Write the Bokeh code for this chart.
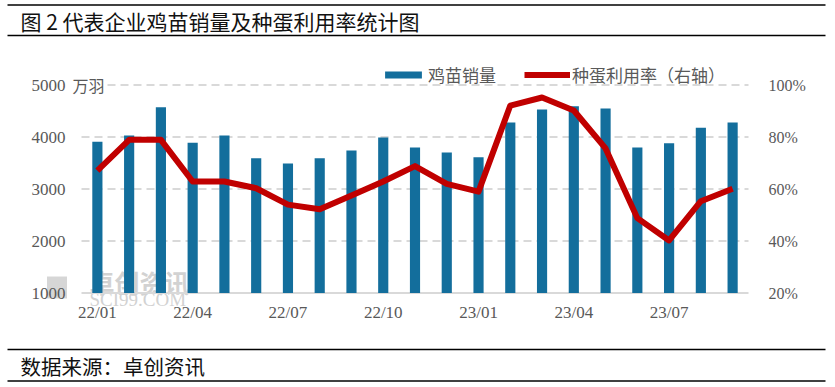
from bokeh.plotting import figure
from bokeh.models import (Range1d, LinearAxis, FixedTicker, PrintfTickFormatter,
                          Legend, LegendItem, ColumnDataSource)
from bokeh.embed import file_html
from bokeh.resources import INLINE
from bokeh.core.properties import value

# ---------------- data ----------------
months = ["22/01", "22/02", "22/03", "22/04", "22/05", "22/06", "22/07",
          "22/08", "22/09", "22/10", "22/11", "22/12", "23/01", "23/02",
          "23/03", "23/04", "23/05", "23/06", "23/07", "23/08", "23/09"]
chick_sales = [3910, 4030, 4570, 3890, 4030, 3590, 3490, 3590, 3740, 3990, 3800,
               3700, 3610, 4280, 4530, 4590, 4550, 3800, 3880, 4180, 4280]
egg_util = [67.1, 78.9, 78.9, 62.9, 62.9, 60.3, 54.0, 52.2, 57.5, 62.9, 68.8,
            62.0, 59.0, 92.1, 95.2, 90.2, 75.6, 48.8, 40.2, 55.3, 60.1]
tick_labels = ["22/01", "22/04", "22/07", "22/10", "23/01", "23/04", "23/07"]
left_ticks = [1000, 2000, 3000, 4000, 5000]
right_ticks = [20, 40, 60, 80, 100]
series_names = ["鸡苗销量", "种蛋利用率（右轴）"]
unit_text = "万羽"
title_text = "图 2 代表企业鸡苗销量及种蛋利用率统计图"
source_text = "数据来源：卓创资讯"
wm_cn, wm_en = "卓创资讯", "SCI99.COM"

# ---------------- style / layout geometry (pixels) ----------------
CJK = "Noto Sans CJK SC"
SERIF = "Liberation Serif"
TXT = "#595959"
BAR = "#136E9C"
RED = "#C00000"
GRID = "#D9D9D9"
WM = "#D2D2D2"

OX, OY, CW, CH = 0, 0, 835, 387
PX_L, PX_R, PY_T, PY_B = 81, 748, 84.5, 292.5   # plot area

n = len(months)
step = (PX_R - PX_L) / n
ymin, ymax = left_ticks[0], left_ticks[-1]
yscale = (PY_B - PY_T) / (ymax - ymin)


def X(px):
    return -0.5 + (px - PX_L) / step


def Y(py):
    return ymin + (PY_B - py) / yscale


def to_pct(v):
    return right_ticks[0] + (v - ymin) * (right_ticks[-1] - right_ticks[0]) / (ymax - ymin)


y0, y1 = Y(OY + CH), Y(OY)

p = figure(width=CW, height=CH, x_range=Range1d(X(OX), X(OX + CW)),
           y_range=Range1d(y0, y1), toolbar_location=None, output_backend="svg",
           min_border=0, outline_line_color=None, background_fill_color="white")
p.extra_y_ranges = {"pct": Range1d(to_pct(y0), to_pct(y1))}
p.xgrid.visible = False
p.ygrid.visible = False

# watermark (behind everything)
p.rect(x=[X(56.5)], y=[Y(287)], width=X(67) - X(47), height=Y(276) - Y(298),
       fill_color=WM, line_color=None, fill_alpha=0.9)
p.text(x=[X(89)], y=[Y(281)], text=[wm_cn], text_font=value(CJK),
       text_font_size="25px", text_font_style="bold", text_color=WM,
       text_baseline="middle")
p.text(x=[X(89)], y=[Y(299)], text=[wm_en], text_font=value(SERIF),
       text_font_size="19px", text_color=WM, text_baseline="middle")

# dashed grid lines along left ticks
p.segment(x0=[-0.5] * len(left_ticks[1:]), y0=left_ticks[1:],
          x1=[n - 0.5] * len(left_ticks[1:]), y1=left_ticks[1:],
          line_color=GRID, line_width=2, line_dash="8 5")
# solid baseline
p.segment(x0=[-0.5], y0=[ymin], x1=[n - 0.5], y1=[ymin], line_color=GRID, line_width=2)

idx = list(range(n))
src = ColumnDataSource(dict(x=idx, sales=chick_sales, util=egg_util))
r_bar = p.vbar(x="x", top="sales", bottom=ymin, width=0.32, source=src,
               fill_color=BAR, line_color=None)
r_line = p.line(x="x", y="util", source=src, y_range_name="pct",
                line_color=RED, line_width=6, line_join="round")

# unit text next to 5000
p.text(x=[X(72)], y=[ymax], text=[unit_text], text_font=value(CJK),
       text_font_size="16px", text_color=TXT, text_baseline="middle",
       background_fill_color="white")

# header and footer rules + texts
rules = [Y(4.5), Y(35), Y(349), Y(380.5)]
p.segment(x0=[X(7)] * 4, x1=[X(825)] * 4, y0=rules, y1=rules,
          line_color="black", line_width=1.6)
p.text(x=[X(20)], y=[Y(20)], text=[title_text], text_font=value(CJK),
       text_font_size="21px", text_baseline="middle", text_color="#111111")
p.text(x=[X(20)], y=[Y(365)], text=[source_text], text_font=value(CJK),
       text_font_size="20.5px", text_baseline="middle", text_color="#111111")

# x axis
xa = p.xaxis[0]
xa.ticker = FixedTicker(ticks=[months.index(t) for t in tick_labels])
xa.major_label_overrides = {months.index(t): t for t in tick_labels}
xa.axis_line_color = None
xa.major_tick_line_color = None
xa.minor_tick_line_color = None
xa.major_label_text_font = SERIF
xa.major_label_text_font_size = "17px"
xa.major_label_text_color = TXT
xa.major_label_standoff = -91

# left axis
ya = p.yaxis[0]
ya.ticker = FixedTicker(ticks=left_ticks)
ya.axis_line_color = None
ya.major_tick_line_color = None
ya.minor_tick_line_color = None
ya.major_label_text_font = SERIF
ya.major_label_text_font_size = "17px"
ya.major_label_text_color = TXT
ya.major_label_standoff = -71

# right axis
ra = LinearAxis(y_range_name="pct", ticker=FixedTicker(ticks=right_ticks),
                formatter=PrintfTickFormatter(format="%d%%"))
ra.axis_line_color = None
ra.major_tick_line_color = None
ra.minor_tick_line_color = None
ra.major_label_text_font = SERIF
ra.major_label_text_font_size = "16px"
ra.major_label_text_color = TXT
ra.major_label_standoff = -73
p.add_layout(ra, "right")

# legend
leg = Legend(items=[LegendItem(label=series_names[0], renderers=[r_bar]),
                    LegendItem(label=series_names[1], renderers=[r_line])],
             location=(380, 300), orientation="horizontal",
             glyph_width=46, glyph_height=9, label_standoff=2, spacing=28,
             padding=0, margin=0, border_line_color=None,
             background_fill_alpha=0,
             label_text_font=CJK, label_text_font_size="17px",
             label_text_color=TXT)
p.add_layout(leg)

open("out.html", "w").write(file_html(p, INLINE))
